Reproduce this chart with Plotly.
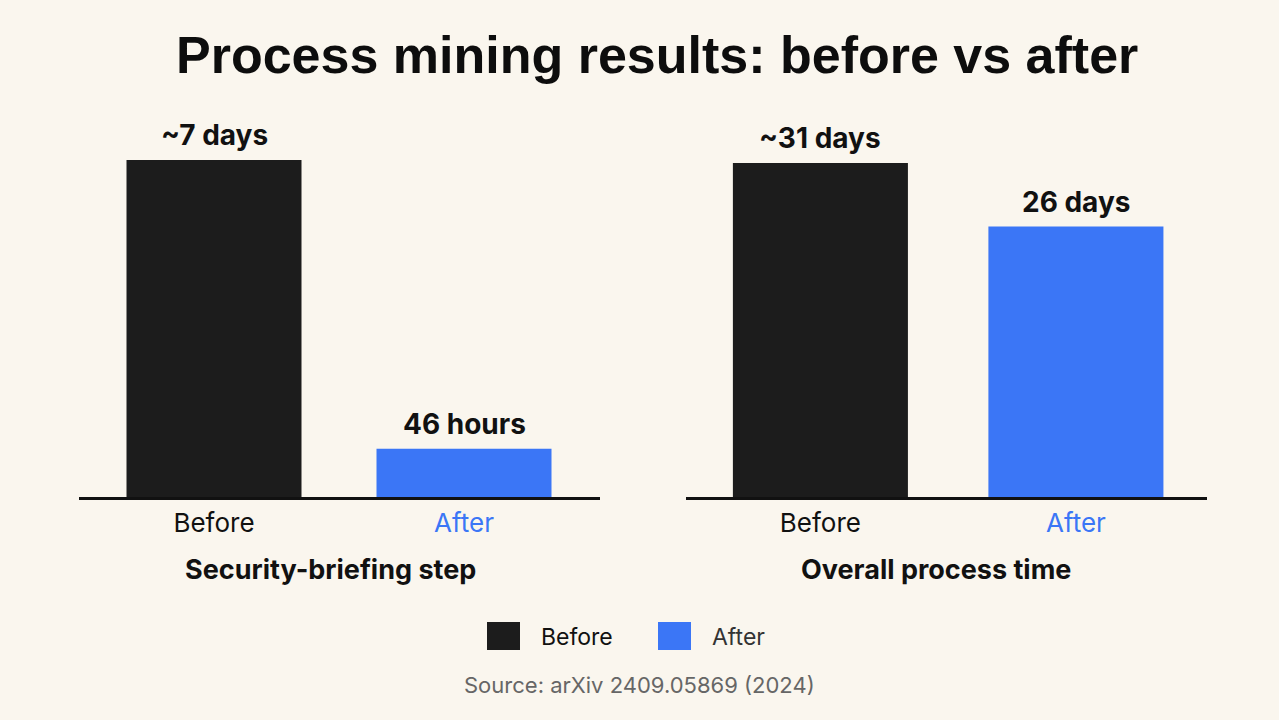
import plotly.graph_objects as go

categories = ["Before", "After"]
left_values = [7.0, 1.0]          # days (bar heights as drawn)
left_labels = ["~7 days", "46 hours"]
right_values = [31.0, 25.1]       # days
right_labels = ["~31 days", "26 days"]
panel_titles = ["Security-briefing step", "Overall process time"]
colors = ["#1c1c1c", "#3b76f6"]
title = "Process mining results: before vs after"
source = "Source: arXiv 2409.05869 (2024)"

W, H = 1279, 720
BG = "#faf6ee"

def px_x(p):
    return p / W

def px_y(p):
    return 1 - p / H

fig = go.Figure()
fig.add_trace(go.Bar(x=categories, y=left_values, marker_color=colors, marker_line_width=0,
                     width=0.70, xaxis="x", yaxis="y", showlegend=False, hoverinfo="skip"))
fig.add_trace(go.Bar(x=categories, y=right_values, marker_color=colors, marker_line_width=0,
                     width=0.685, xaxis="x2", yaxis="y2", showlegend=False, hoverinfo="skip"))

# value labels above bars
for xa, ya, vals, labs in [("x", "y", left_values, left_labels), ("x2", "y2", right_values, right_labels)]:
    for c, v, t in zip(categories, vals, labs):
        fig.add_annotation(x=c, y=v, xref=xa, yref=ya, text=f"<b>{t}</b>", showarrow=False,
                           xanchor="center", yanchor="bottom", yshift=6,
                           font=dict(family="Inter", size=28, color="#111111"))

ticktext = ["<span style='color:#111111'>Before</span>", "<span style='color:#3b76f6'>After</span>"]
xcommon = dict(showline=True, linecolor="#111111", linewidth=3, ticks="outside", ticklen=1,
               tickcolor="rgba(0,0,0,0)", showgrid=False,
               zeroline=False, tickfont=dict(family="Inter", size=26, color="#111111"),
               tickvals=categories, ticktext=ticktext, fixedrange=True)
ydom = [px_y(497), px_y(110)]
fig.update_layout(
    width=W, height=H, autosize=False,
    paper_bgcolor=BG, plot_bgcolor=BG,
    margin=dict(l=0, r=0, t=0, b=0),
    xaxis=dict(domain=[px_x(79), px_x(600)], anchor="y", range=[-0.54, 1.544], **xcommon),
    xaxis2=dict(domain=[px_x(686), px_x(1207)], anchor="y2", range=[-0.526, 1.513], **xcommon),
    yaxis=dict(domain=ydom, range=[0, 7.0 * 387 / 337], visible=False, fixedrange=True),
    yaxis2=dict(domain=ydom, range=[0, 31.0 * 387 / 334], visible=False, fixedrange=True),
    showlegend=False,
)

# panel titles
for t, cx in zip(panel_titles, [330, 936]):
    fig.add_annotation(text=f"<b>{t}</b>", x=px_x(cx), y=px_y(569), xref="paper", yref="paper",
                       showarrow=False, xanchor="center", yanchor="middle",
                       font=dict(family="Inter", size=27, color="#111111"))

fig.add_annotation(text=f"<b>{title}</b>", x=px_x(657), y=px_y(55), xref="paper", yref="paper",
                   showarrow=False, font=dict(family="Liberation Sans", size=52, color="#0d0d0d"),
                   xanchor="center", yanchor="middle")

# legend (drawn manually to match the large swatches)
legend_items = [("Before", colors[0], 487, 539), ("After", colors[1], 658, 710)]
for name, col, sx, tx in legend_items:
    fig.add_shape(type="rect", xref="paper", yref="paper",
                  x0=px_x(sx), x1=px_x(sx + 33), y0=px_y(650), y1=px_y(622),
                  fillcolor=col, line=dict(width=0))
    fig.add_annotation(text=name, x=px_x(tx), y=px_y(637), xref="paper", yref="paper",
                       showarrow=False, xanchor="left", yanchor="middle",
                       font=dict(family="Inter", size=23, color="#111111" if name == "Before" else "#333333"))

fig.add_annotation(text=source, x=px_x(639), y=px_y(685), xref="paper", yref="paper",
                   showarrow=False, xanchor="center", yanchor="middle",
                   font=dict(family="Inter", size=22, color="#666666"))

fig.write_html("out.html", config={"displayModeBar": False})
